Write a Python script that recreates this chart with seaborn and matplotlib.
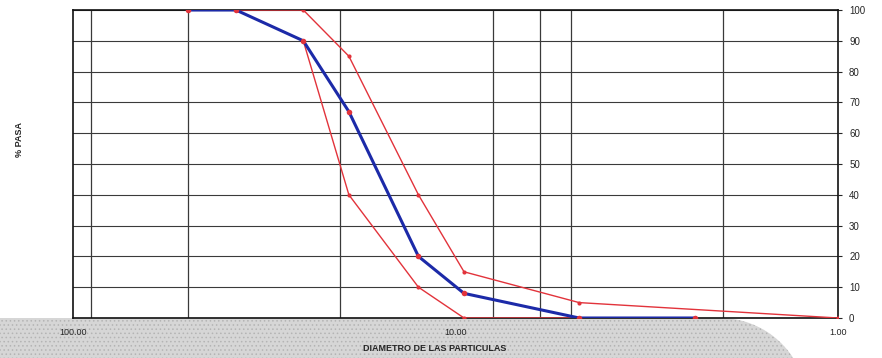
import numpy as np
import pandas as pd
import matplotlib
matplotlib.use("Agg")
import matplotlib.pyplot as plt
from matplotlib.patches import Polygon
from matplotlib.ticker import NullLocator
import seaborn as sns

# Sieve openings (mm) and percent passing for the sample and the spec band
sieve_mm = [50.0, 37.5, 25.0, 19.0, 12.5, 9.5, 4.75, 2.36]
muestra_pasa = [100, 100, 90, 67, 20, 8, 0, 0]

lim_inf_mm = [37.5, 25.0, 19.0, 12.5, 9.5, 4.75, 2.36]
lim_inf_pasa = [100, 90, 40, 10, 0, 0, 0]

lim_sup_mm = [37.5, 25.0, 19.0, 12.5, 9.5, 4.75, 1.0]
lim_sup_pasa = [100, 100, 85, 40, 15, 5, 0]

x_ticks = [100, 10, 1]
x_tick_labels = ["100.00", "10.00", "1.00"]
y_ticks = list(range(0, 101, 10))
v_grid = [90, 50, 20, 8, 6, 5, 2]

sns.set_style("white")
plt.rcParams["font.family"] = ["Liberation Sans", "DejaVu Sans"]
plt.rcParams["hatch.linewidth"] = 0.6
plt.rcParams["hatch.color"] = "#a8a8a8"

W, H = 882, 358
fig = plt.figure(figsize=(W / 100, H / 100), dpi=100)
fig.patch.set_facecolor("white")

# grey halftone page area under the chart
R, cx, cy = 87.0, 720.0, 405.0
t_end = np.arccos((cy - H) / R)
t = np.linspace(0, t_end, 40)
arc = [(cx + R * np.sin(a), cy - R * np.cos(a)) for a in t]
pts = [(0, 318)] + arc + [(cx + R * np.sin(t_end), H), (0, H)]
pts = [(x / W, 1 - y / H) for x, y in pts]
fig.patches.append(Polygon(pts, closed=True, transform=fig.transFigure,
                           facecolor="#d6d6d6", edgecolor="#b4b4b4",
                           hatch="....", lw=0, zorder=-10))

ax = fig.add_axes([73 / W, 40 / H, 765 / W, 308 / H])
ax.set_facecolor("white")
ax.set_zorder(1)

red = "#e2333b"
blue = "#1c2aa8"

inf = pd.DataFrame({"mm": lim_inf_mm, "pasa": lim_inf_pasa})
sup = pd.DataFrame({"mm": lim_sup_mm, "pasa": lim_sup_pasa})
mue = pd.DataFrame({"mm": sieve_mm, "pasa": muestra_pasa})

sns.lineplot(data=inf, x="mm", y="pasa", sort=False, ax=ax, color=red, lw=1.0,
             marker="o", markersize=3, markeredgewidth=0, zorder=3)
sns.lineplot(data=sup, x="mm", y="pasa", sort=False, ax=ax, color=red, lw=1.0,
             marker="o", markersize=3, markeredgewidth=0, zorder=3)
sns.lineplot(data=mue, x="mm", y="pasa", sort=False, ax=ax, color=blue, lw=2.2,
             marker="o", markersize=4, markeredgewidth=0,
             markerfacecolor=red, zorder=4)

ax.set_xscale("log")
ax.set_xlim(100, 1)
ax.set_ylim(0, 100)
ax.set_xticks(x_ticks, x_tick_labels)
ax.xaxis.set_minor_locator(NullLocator())
ax.yaxis.tick_right()
ax.set_yticks(y_ticks)

ax.grid(axis="y", color="#3a3a3a", lw=0.8)
ax.grid(axis="x", visible=False)
for v in v_grid:
    ax.axvline(v, color="#3a3a3a", lw=0.9, zorder=1)

for s in ax.spines.values():
    s.set_color("#111111")
    s.set_linewidth(1.2)

ax.tick_params(axis="x", length=0, pad=7, labelsize=6.5)
ax.tick_params(axis="y", right=True, length=3, width=0.8, pad=5, labelsize=7)

ax.set_xlabel("DIAMETRO DE LAS PARTICULAS", fontsize=6.5, fontweight="bold")
ax.xaxis.set_label_coords(0.473, -0.085)
ax.set_ylabel("")
fig.text(19 / W, 1 - 140 / H, "% PASA", rotation=90, ha="center", va="center",
         fontsize=6.5, fontweight="bold")

fig.savefig("out.png", dpi=100)
